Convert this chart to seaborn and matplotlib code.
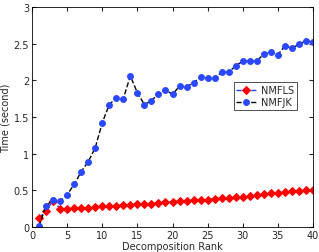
import numpy as np
import pandas as pd
import seaborn as sns
import matplotlib.pyplot as plt

# decomposition rank 1..40
rank = list(range(1, 41))

# NMFLS time (second)
nmfls = [0.12, 0.22, 0.36, 0.25, 0.25, 0.255, 0.26, 0.265, 0.27, 0.28,
         0.285, 0.29, 0.30, 0.305, 0.31, 0.315, 0.32, 0.33, 0.335, 0.345,
         0.355, 0.36, 0.365, 0.37, 0.375, 0.385, 0.39, 0.395, 0.405, 0.41,
         0.42, 0.43, 0.445, 0.46, 0.47, 0.475, 0.485, 0.495, 0.50, 0.51]

# NMFJK time (second)
nmfjk = [0.01, 0.29, 0.37, 0.35, 0.44, 0.58, 0.755, 0.89, 1.08, 1.42,
         1.67, 1.76, 1.75, 2.06, 1.83, 1.67, 1.72, 1.82, 1.87, 1.81,
         1.92, 1.91, 1.97, 2.04, 2.03, 2.03, 2.11, 2.11, 2.20, 2.26,
         2.26, 2.26, 2.36, 2.38, 2.35, 2.47, 2.44, 2.49, 2.54, 2.52]

sns.set_style("white")
plt.rcParams['font.family'] = ['DejaVu Sans']

fig = plt.figure(figsize=(3.19, 2.53), dpi=100)
ax = fig.add_axes([32/319, 25/253, 281/319, 220/253])

df = pd.DataFrame({'rank': rank, 'NMFLS': nmfls, 'NMFJK': nmfjk})

sns.lineplot(data=df, x='rank', y='NMFLS', ax=ax, color='#1f3fff', linestyle='--',
             linewidth=1.0, marker='D', markersize=3.6, markerfacecolor='red',
             markeredgecolor='red', label='NMFLS')
sns.lineplot(data=df, x='rank', y='NMFJK', ax=ax, color='black', linestyle='--',
             linewidth=1.0, marker='o', markersize=4.2, markerfacecolor='#2a48ff',
             markeredgecolor='#2a48ff', label='NMFJK')

ax.set_xlim(0, 40)
ax.set_ylim(0, 3)
ax.set_xticks(range(0, 41, 5))
ax.set_yticks([0, 0.5, 1, 1.5, 2, 2.5, 3])
ax.set_yticklabels(['0', '0.5', '1', '1.5', '2', '2.5', '3'])
ax.tick_params(direction='in', length=3, labelsize=7, top=True, right=True,
               bottom=True, left=True, pad=2)
for s in ax.spines.values():
    s.set_color('black')
    s.set_linewidth(0.6)

ax.set_xlabel('Decomposition Rank', fontsize=7, labelpad=1)
ax.set_ylabel('Time (second)', fontsize=7, labelpad=2)

leg = ax.legend(loc='center left', bbox_to_anchor=(0.70, 0.595), fontsize=7,
                frameon=True, fancybox=False, edgecolor='black',
                handlelength=2.0, borderpad=0.3, labelspacing=0.2,
                handletextpad=0.5)
leg.get_frame().set_linewidth(0.6)

fig.savefig('out.png', dpi=100)
